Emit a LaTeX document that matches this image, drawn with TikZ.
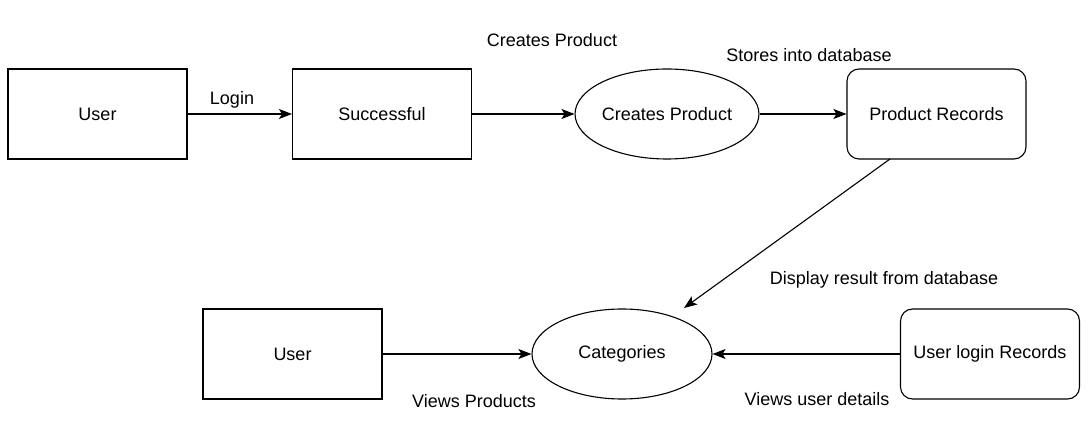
\documentclass[tikz,border=0pt]{standalone}
\usepackage{fontspec}
\setmainfont{Liberation Sans}
\usetikzlibrary{arrows.meta,shapes.geometric,calc}
\begin{document}
\begin{tikzpicture}[x=1pt,y=-1pt,
  every node/.style={font=\fontsize{18}{21}\selectfont},
  box/.style={draw,line width=1.1pt,minimum width=179pt,minimum height=90pt,inner sep=0pt},
  rbox/.style={box,rounded corners=12pt},
  proc/.style={draw,line width=1.1pt,ellipse,minimum width=180pt,minimum height=90pt,inner sep=0pt},
  flow/.style={line width=1.1pt,-{Stealth[length=13pt,width=10pt,inset=3pt]}},
  lbl/.style={inner sep=0pt}]
\useasboundingbox (0,0) rectangle (1092,443);
\node[box] (u1) at (97.5,114) {User};
\node[box] (succ) at (382,114) {Successful};
\node[proc] (cp) at (667,114) {Creates Product};
\node[rbox] (pr) at (936.5,114) {Product Records};
\node[box] (u2) at (292.5,354) {User};
\node[proc] (cat) at (622,354) {Categories};
\node[rbox] (ulr) at (990,354) {User login Records};
\coordinate (prb) at (890,159);
\coordinate (catt) at (684,308);
\draw[flow] (u1) -- (succ);
\draw[flow] (succ) -- (cp);
\draw[flow] (cp) -- (pr);
\draw[flow] (prb) -- (catt);
\draw[flow] (u2) -- (cat);
\draw[flow] (ulr) -- (cat);
\node[lbl] (l1) at (232,100) {Login};
\node[lbl] (l2) at (552,40) {Creates Product};
\node[lbl] (l3) at (809,55) {Stores into database};
\node[lbl] (l4) at (884,280) {Display result from database};
\node[lbl] (l5) at (474,401) {Views Products};
\node[lbl] (l6) at (817,399) {Views user details};
\end{tikzpicture}
\end{document}
